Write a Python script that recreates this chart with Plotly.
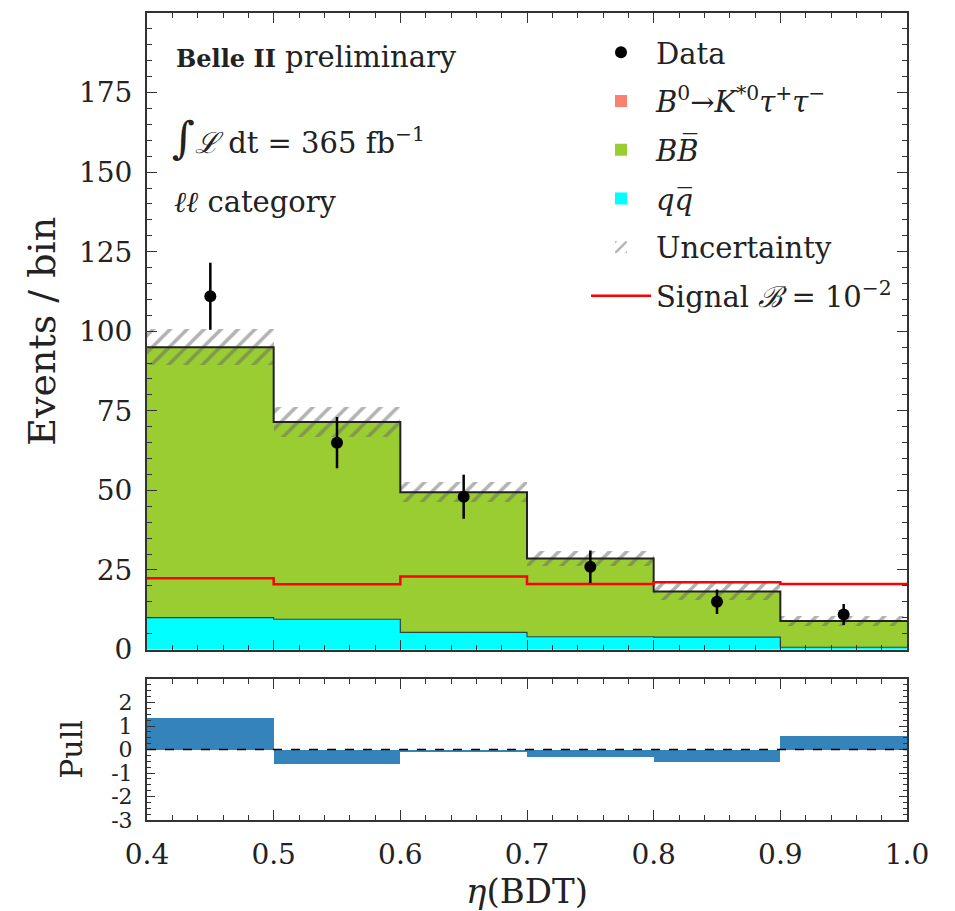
import numpy as np
import plotly.graph_objects as go

# ---------------- data ----------------
bin_edges = [0.4, 0.5, 0.6, 0.7, 0.8, 0.9, 1.0]
bin_centers = [0.45, 0.55, 0.65, 0.75, 0.85, 0.95]
data_counts = [111, 65, 48, 26, 15, 11]
qq_counts = [10.0, 9.5, 5.4, 4.0, 3.9, 0.7]
bb_counts = [85.0, 62.0, 44.0, 24.6, 14.3, 8.25]
sig_counts = [0.0, 0.0, 0.0, 0.0, 0.0, 0.0]
unc_counts = [5.6, 4.8, 3.2, 2.5, 2.6, 1.5]
signal_line = [22.4, 20.5, 22.9, 20.6, 21.1, 20.6]
pull_values = [1.35, -0.6, -0.12, -0.33, -0.53, 0.58]

y_ticks = [0, 25, 50, 75, 100, 125, 150, 175]
pull_ticks = [-3, -2, -1, 0, 1, 2]
x_ticks = [0.4, 0.5, 0.6, 0.7, 0.8, 0.9, 1.0]

# ---------------- derived ----------------
qq = np.array(qq_counts)
bb = np.array(bb_counts)
sg = np.array(sig_counts)
total = qq + bb + sg
unc = np.array(unc_counts)
widths = np.diff(bin_edges)
data_err = np.sqrt(np.array(data_counts))

def step(vals):
    return list(vals) + [vals[-1]]

FONT = "DejaVu Serif"
TXT = "#222222"

fig = go.Figure()

# stacked components
fig.add_trace(go.Bar(x=bin_centers, y=qq, base=0, width=widths,
                     marker=dict(color="#00ffff", line=dict(width=0)),
                     name="<i>q</i><i>q̅</i>", legendrank=4, legendgroup="g4",
                     xaxis="x", yaxis="y"))
fig.add_trace(go.Bar(x=bin_centers, y=bb, base=qq, width=widths,
                     marker=dict(color="#9acd32", line=dict(width=0)),
                     name="<i>B</i><i>B̅</i>", legendrank=3, legendgroup="g3",
                     xaxis="x", yaxis="y"))
fig.add_trace(go.Bar(x=bin_centers, y=sg, base=qq + bb, width=widths,
                     marker=dict(color="#fa8072", line=dict(width=0)),
                     name="<i>B</i><sup>0</sup>→<i>K</i><sup>*0</sup><i>τ</i><sup>+</sup><i>τ</i><sup>−</sup>",
                     legendrank=2, legendgroup="g2",
                     xaxis="x", yaxis="y"))

# outlines
fig.add_trace(go.Scatter(x=bin_edges, y=step(qq), mode="lines", line_shape="hv",
                         line=dict(color="#2a4a4a", width=1.2), showlegend=False,
                         hoverinfo="skip", xaxis="x", yaxis="y"))
fig.add_trace(go.Scatter(x=bin_edges, y=step(total), mode="lines", line_shape="hv",
                         line=dict(color="#222222", width=2), showlegend=False,
                         hoverinfo="skip", xaxis="x", yaxis="y"))

# uncertainty band
fig.add_trace(go.Bar(x=bin_centers, y=2 * unc, base=total - unc, width=widths,
                     marker=dict(color="rgba(0,0,0,0)", line=dict(width=0),
                                 pattern=dict(shape="/", fgcolor="#666666",
                                              bgcolor="rgba(0,0,0,0)",
                                              size=12, solidity=0.3)),
                     name="Uncertainty", legendrank=5, legendgroup="g5",
                     xaxis="x", yaxis="y"))

# signal line
fig.add_trace(go.Scatter(x=bin_edges, y=step(signal_line), mode="lines", line_shape="hv",
                         line=dict(color="#ff0000", width=2.5),
                         name="Signal <i>ℬ</i> = 10<sup>−2</sup>", legendrank=6, legendgroup="g6",
                         xaxis="x", yaxis="y"))

# data points
fig.add_trace(go.Scatter(x=bin_centers, y=data_counts, mode="markers",
                         marker=dict(color="black", size=12),
                         error_y=dict(type="data", array=data_err, color="black",
                                      thickness=2.5, width=0),
                         name="Data", legendrank=1, legendgroup="g1",
                         xaxis="x", yaxis="y"))

# pull panel
fig.add_trace(go.Bar(x=bin_centers, y=pull_values, base=0, width=widths,
                     marker=dict(color="#3484bb", line=dict(width=0)),
                     showlegend=False, xaxis="x2", yaxis="y2"))

fig.add_shape(type="line", xref="x2 domain", yref="y2", x0=0, x1=1, y0=0, y1=0,
              line=dict(color="black", width=1.5, dash="dash"))

axis_common = dict(showline=True, linecolor="#333333", linewidth=2, mirror="ticks",
                   ticks="inside", tickcolor="#333333", showgrid=False, zeroline=False,
                   automargin=False,
                   tickfont=dict(family=FONT, size=28, color=TXT))

# page offset compensation (body margin)
OFF_X, OFF_Y = 8, 8
L, R, T, B = 147 - OFF_X, 955 - 907 + OFF_X, 13 - OFF_Y, 911 - 820 + OFF_Y
paper_h = 911 - T - B
main_bottom = (820 - 649.5) / paper_h
pull_top = (820 - 679) / paper_h

fig.update_layout(
    width=955, height=911,
    margin=dict(l=L, r=R, t=T, b=B, autoexpand=False),
    paper_bgcolor="white", plot_bgcolor="white",
    barmode="overlay", bargap=0,
    font=dict(family=FONT, size=28, color=TXT),
    showlegend=True,
    legend=dict(x=(586 - 147) / 760, y=1 - (27 - 13) / paper_h, xanchor="left", yanchor="top",
                bgcolor="rgba(0,0,0,0)", borderwidth=0,
                font=dict(family=FONT, size=29, color=TXT),
                tracegroupgap=8, itemwidth=60, traceorder="grouped"),
    xaxis=dict(range=[0.4, 1.0], domain=[0, 1], anchor="y", tickvals=x_ticks,
               showticklabels=False, ticklen=10,
               minor=dict(ticks="inside", dtick=0.02, ticklen=5, tickcolor="#333333"),
               **axis_common),
    yaxis=dict(range=[0, 200], domain=[main_bottom, 1], anchor="x", tickvals=y_ticks,
               ticklen=10, ticklabelstandoff=7,
               minor=dict(ticks="inside", dtick=5, ticklen=5, tickcolor="#333333"),
               title=dict(text="Events / bin", font=dict(family=FONT, size=38, color=TXT),
                          standoff=12),
               **axis_common),
    xaxis2=dict(range=[0.4, 1.0], domain=[0, 1], anchor="y2", tickvals=x_ticks,
                ticktext=["0.4", "0.5", "0.6", "0.7", "0.8", "0.9", "1.0"],
                ticklen=10, ticklabelstandoff=8,
                minor=dict(ticks="inside", dtick=0.02, ticklen=5, tickcolor="#333333"),
                title=dict(text="<i>η</i>(BDT)", font=dict(family=FONT, size=34, color=TXT),
                           standoff=2),
                **axis_common),
    yaxis2=dict(range=[-3, 3], domain=[0, pull_top], anchor="x2", tickvals=pull_ticks,
                ticktext=["-3", "-2", "-1", "0", "1", "2"],
                tickfont=dict(family=FONT, size=22, color=TXT),
                ticklen=8, ticklabelstandoff=8,
                minor=dict(ticks="inside", dtick=0.25, ticklen=4, tickcolor="#333333"),
                title=dict(text="Pull", font=dict(family=FONT, size=30, color=TXT),
                           standoff=20),
                **{k: v for k, v in axis_common.items() if k != "tickfont"}),
)

# overlay texts
fig.add_annotation(xref="x domain", yref="y domain", x=(174 - 147) / 760,
                   y=(649.5 - 57) / 636.2, xanchor="left", yanchor="middle", showarrow=False,
                   text="<b><span style='font-size:24px'>Belle II</span></b> preliminary",
                   font=dict(family=FONT, size=29, color=TXT))
fig.add_annotation(xref="x domain", yref="y domain", x=(170 - 147) / 760,
                   y=(649.5 - 138) / 636.2, xanchor="left", yanchor="middle", showarrow=False,
                   text="<span style='font-size:44px'>∫</span><i>ℒ</i> dt = 365 fb<sup>−1</sup>",
                   font=dict(family=FONT, size=29, color=TXT))
fig.add_annotation(xref="x domain", yref="y domain", x=(172 - 147) / 760,
                   y=(649.5 - 202) / 636.2, xanchor="left", yanchor="middle", showarrow=False,
                   text="<i>ℓℓ</i> category",
                   font=dict(family=FONT, size=29, color=TXT))

fig.write_html("out.html")
